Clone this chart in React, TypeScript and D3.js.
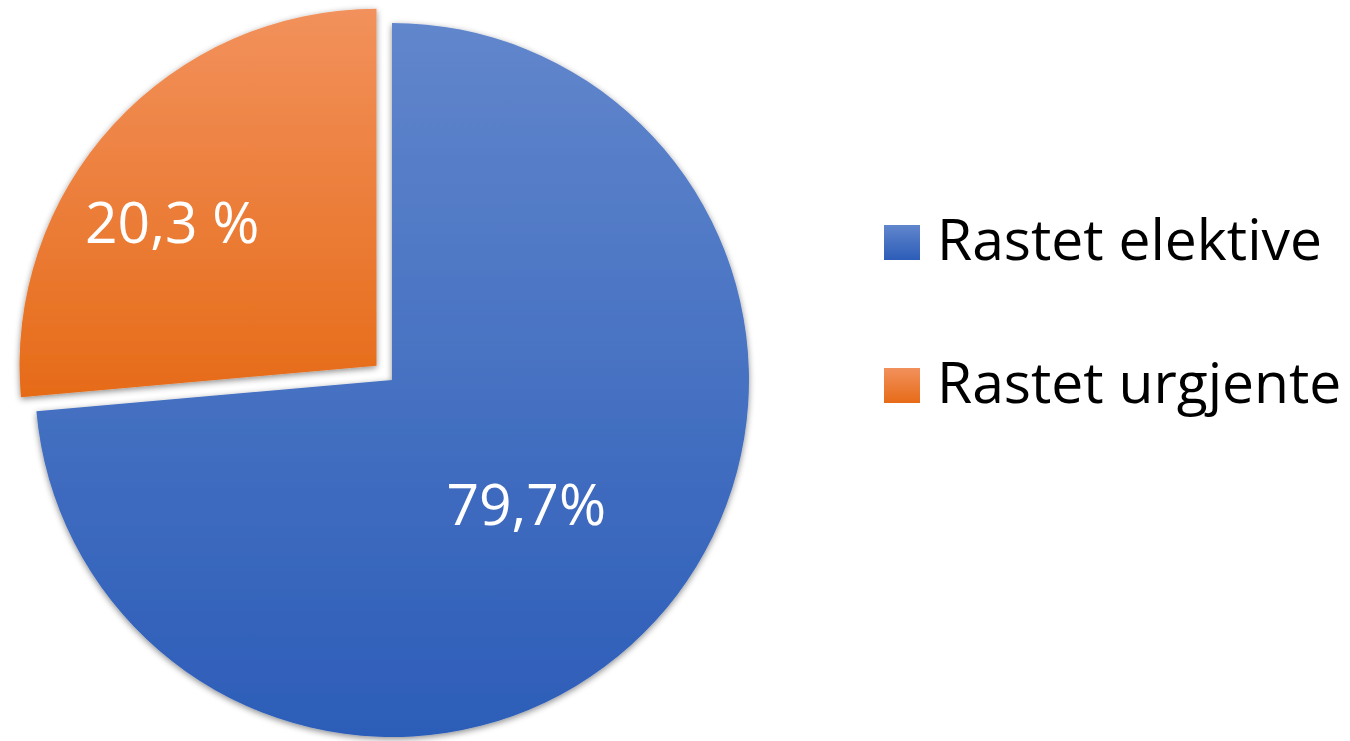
import React from "react";
import * as d3 from "d3";

const categories = ["Rastet elektive", "Rastet urgjente"];
// slice shares as drawn in the picture (geometry), and the printed labels
const sliceShares = [73.6, 26.4];
const labelTexts = ["79,7%", "20,3 %"];
const explode = [0, 21];
const labelRadiusFactor = [0.51, 0.7];
const labelNudge: [number, number][] = [
  [0, 0],
  [-20, 24],
];
const gradTop = ["#6186CC", "#F2915C"];
const gradBottom = ["#2C5DB8", "#E66B18"];

const W = 1350;
const H = 741;
const cx = 392;
const cy = 380;
const R = 357;
const FONT = "'Open Sans', Carlito, Calibri, Lato, sans-serif";
const FS = 57;

export default function App() {
  const pie = d3
    .pie<number>()
    .sort(null)
    .value((d) => d)
    .startAngle(0)
    .endAngle(2 * Math.PI);
  const arcs = pie(sliceShares);
  const arc = d3.arc<d3.PieArcDatum<number>>().innerRadius(0).outerRadius(R);

  const legendY = d3.scalePoint<string>().domain(categories).range([242, 385]);

  return (
    <svg
      width={W}
      height={H}
      style={{ position: "fixed", left: 0, top: 0, background: "#fff", fontVariantLigatures: "none" }}
    >
      <defs>
        {categories.map((c, i) => (
          <linearGradient key={c} id={`g${i}`} x1="0" y1="0" x2="0" y2="1">
            <stop offset="0" stopColor={gradTop[i]} />
            <stop offset="1" stopColor={gradBottom[i]} />
          </linearGradient>
        ))}
        <filter id="sh" x="-10%" y="-10%" width="120%" height="120%">
          <feDropShadow dx="0" dy="2" stdDeviation="3" floodColor="#000" floodOpacity="0.45" />
        </filter>
      </defs>
      <g transform={`translate(${cx},${cy})`}>
        {arcs.map((a, i) => {
          const mid = (a.startAngle + a.endAngle) / 2;
          const ox = Math.sin(mid) * explode[i];
          const oy = -Math.cos(mid) * explode[i];
          const lr = R * labelRadiusFactor[i];
          const lx = Math.sin(mid) * lr + labelNudge[i][0];
          const ly = -Math.cos(mid) * lr + labelNudge[i][1];
          return (
            <g key={i} transform={`translate(${ox},${oy})`}>
              <path d={arc(a) || ""} fill={`url(#g${i})`} filter="url(#sh)" />
              <text
                x={lx}
                y={ly}
                textAnchor="middle"
                dominantBaseline="central"
                fill="#fff"
                fontFamily={FONT}
                fontSize={FS}
              >
                {labelTexts[i]}
              </text>
            </g>
          );
        })}
      </g>
      {categories.map((c, i) => {
        const y = legendY(c) as number;
        return (
          <g key={c}>
            <rect x={884} y={y - 17} width={36} height={35} fill={`url(#g${i})`} />
            <text
              x={937}
              y={y + 18}
              fontFamily={FONT}
              fontSize={FS}
              fill="#000"
            >
              {c}
            </text>
          </g>
        );
      })}
    </svg>
  );
}
